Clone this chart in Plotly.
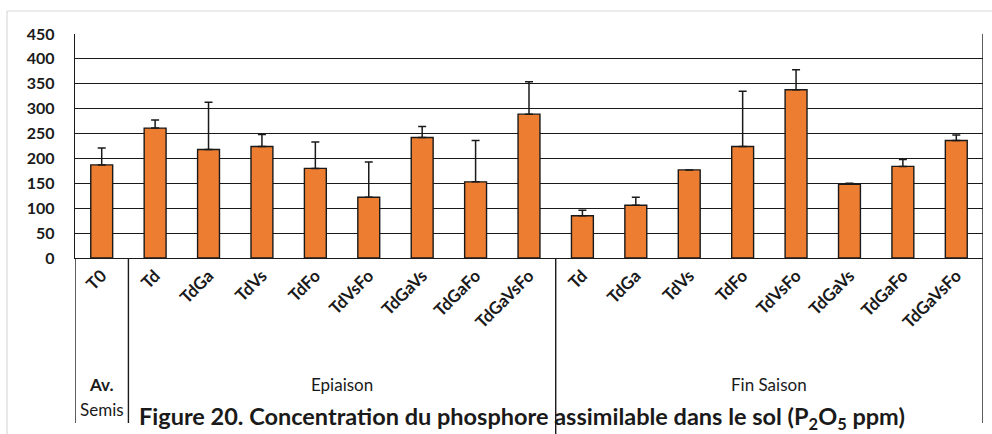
import plotly.graph_objects as go

categories = ["T0",
              "Td", "TdGa", "TdVs", "TdFo", "TdVsFo", "TdGaVs", "TdGaFo", "TdGaVsFo",
              "Td", "TdGa", "TdVs", "TdFo", "TdVsFo", "TdGaVs", "TdGaFo", "TdGaVsFo"]
means = [187,
         261, 218, 224, 180, 122, 242, 153, 289,
         85, 106, 177, 224, 338, 148, 184, 236]
sd = [34,
      16, 95, 24, 53, 71, 22, 83, 65,
      11, 16, 0, 111, 40, 2, 14, 11]
groups = ["<b>Av.</b>", "Epiaison", "Fin Saison"]
group_centers = [0, 4.5, 12.5]
y_ticks = [0, 50, 100, 150, 200, 250, 300, 350, 400, 450]

FONT = "Lato"
xs = list(range(len(categories)))

fig = go.Figure()
fig.add_trace(go.Bar(
    x=xs, y=means,
    marker=dict(color="#ED7D31", line=dict(color="#1a1a1a", width=1.4)),
    error_y=dict(type="data", array=sd, arrayminus=[0] * len(sd), symmetric=False,
                 color="#1a1a1a", thickness=1.5, width=4),
    width=0.41,
))

L, R, T, B = 75, 9, 34, 176
PH = 434 - T - B
PW = 992 - L - R

def py(pix):
    return (434 - B - pix) / PH

def px(pix):
    return (pix - L) / PW

shapes = []
for xv, bottom in [(-0.5, 423), (0.5, 423), (8.5, 434), (16.5, 423)]:
    shapes.append(dict(type="line", xref="x", yref="paper", x0=xv, x1=xv,
                       y0=0, y1=py(bottom), line=dict(color="#1a1a1a", width=1.4)))
shapes.append(dict(type="line", xref="x", yref="paper", x0=16.5, x1=16.5, y0=0, y1=1,
                   line=dict(color="#1a1a1a", width=1.4)))
shapes.append(dict(type="line", xref="paper", yref="paper", x0=px(7), x1=px(1000),
                   y0=py(11), y1=py(11), line=dict(color="#d9d9d9", width=1.2)))
shapes.append(dict(type="line", xref="paper", yref="paper", x0=px(7), x1=px(7),
                   y0=py(11), y1=py(440), line=dict(color="#d9d9d9", width=1.2)))

annotations = []
for g, c in zip(groups, group_centers):
    annotations.append(dict(x=c, y=py(384), xref="x", yref="paper",
                            text=g, showarrow=False,
                            font=dict(family=FONT, size=17, color="#1a1a1a"),
                            yanchor="middle", xanchor="center"))
annotations.append(dict(x=0, y=py(409), xref="x", yref="paper",
                        text="Semis", showarrow=False,
                        font=dict(family=FONT, size=17, color="#1a1a1a"),
                        yanchor="middle", xanchor="center"))
annotations.append(dict(x=px(522), y=py(418), xref="paper", yref="paper",
                        text="<b>Figure 20. Concentration du phosphore assimilable dans le sol (P<sub>2</sub>O<sub>5</sub> ppm)</b>",
                        showarrow=False, font=dict(family=FONT, size=23.5, color="#1a1a1a"),
                        xanchor="center", yanchor="middle"))

fig.update_layout(
    width=992, height=434,
    margin=dict(l=L, r=R, t=T, b=B, pad=0),
    paper_bgcolor="white", plot_bgcolor="white",
    showlegend=False,
    shapes=shapes, annotations=annotations,
    xaxis=dict(
        tickmode="array", tickvals=xs,
        ticktext=["<b>%s</b>" % c for c in categories],
        tickangle=-45, range=[-0.5, 16.5],
        showgrid=False, showline=True, linecolor="#1a1a1a", linewidth=1.4,
        ticks="", tickfont=dict(family=FONT, size=17, color="#1a1a1a"),
        fixedrange=True, zeroline=False,
    ),
    yaxis=dict(
        range=[0, 450], tickvals=y_ticks,
        ticktext=["<b>%d</b>" % v for v in y_ticks],
        showgrid=True, gridcolor="#1a1a1a", gridwidth=1.4,
        showline=True, linecolor="#1a1a1a", linewidth=1.4,
        ticks="", ticklabelstandoff=16,
        tickfont=dict(family=FONT, size=16, color="#1a1a1a"),
        zeroline=False, fixedrange=True,
    ),
)

fig.write_html("out.html")
